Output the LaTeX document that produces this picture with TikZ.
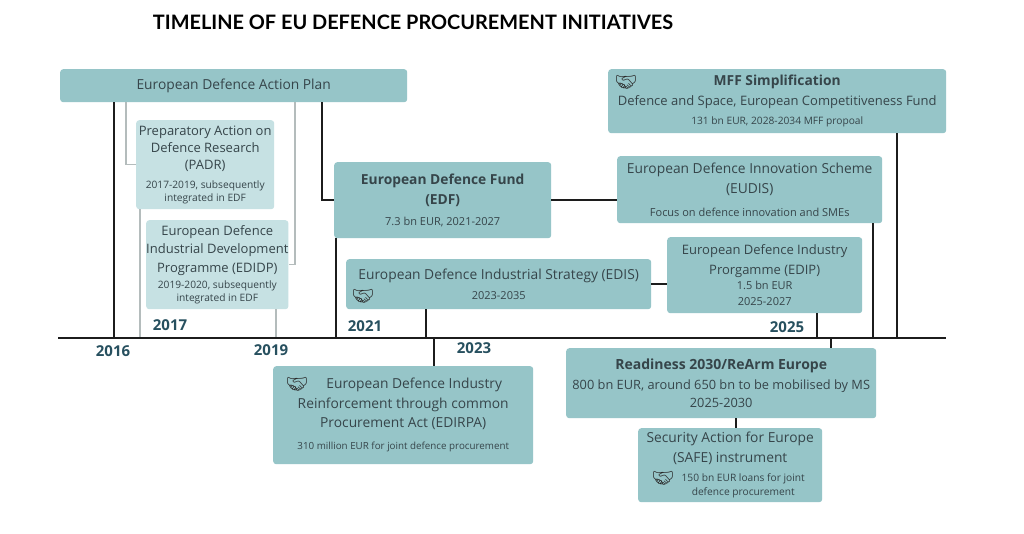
\documentclass[tikz,border=0pt]{standalone}
\usepackage{fontspec}
\setmainfont{Open Sans}
\newfontfamily\titlefont{Lato}
\newfontfamily\emofont{Noto Emoji}
\definecolor{boxc}{HTML}{96C5C8}
\definecolor{lboxc}{HTML}{C6E1E3}
\definecolor{txt}{HTML}{36454A}
\definecolor{yrc}{HTML}{27505F}
\definecolor{linec}{HTML}{1C1C1C}
\definecolor{grayc}{HTML}{B4BCBC}
\definecolor{iconc}{HTML}{2A2A2A}
\newcommand\fsM{\fontsize{13}{18.5}\selectfont}
\newcommand\fsL{\fontsize{13.8}{19.5}\selectfont}
\newcommand\fsS{\fontsize{10.2}{13.5}\selectfont}
\newcommand\fsT{\fontsize{11}{17}\selectfont}
\tikzset{
 box/.style={fill=boxc, rounded corners=3pt, inner sep=0pt, align=center, text=txt, anchor=north west, font=\fsL},
 lbox/.style={box, fill=lboxc, font=\fsM},
 blk/.style={draw=linec, line width=1.8pt},
 gry/.style={draw=grayc, line width=1.5pt},
 yr/.style={font=\fontsize{15}{15}\selectfont\bfseries, text=yrc, inner sep=0pt},
 icon/.style={font=\emofont\fontsize{18}{18}\selectfont, text=iconc, inner sep=0pt},
 ttl/.style={font=\titlefont\fontsize{19.9}{21}\selectfont\bfseries, text=black, inner sep=0pt}
}
\begin{document}
\begin{tikzpicture}[x=1pt,y=-1pt]
\useasboundingbox[fill=white] (0,0) rectangle (1024,533);
\node[ttl] (title) at (413,22) {TIMELINE OF EU DEFENCE PROCUREMENT INITIATIVES};
% timeline
\coordinate (tl0) at (58,338);
\coordinate (tl1) at (946,338);
% boxes
\node[box, minimum width=347, minimum height=33] (edap) at (60,69) {European Defence Action Plan};
\node[lbox, minimum width=138, minimum height=89, font=\fontsize{13}{17}\selectfont] (padr) at (136,120)
 {Preparatory Action on\\Defence Research\\(PADR)\\[2pt]\fsS 2017-2019, subsequently\\[-4pt]\fsS integrated in EDF};
\node[lbox, minimum width=141, minimum height=89] (edidp) at (146,220)
 {European Defence\\Industrial Development\\Programme (EDIDP)\\[-2.5pt]\fsS 2019-2020, subsequently\\[-5.5pt]\fsS integrated in EDF};
\node[box, minimum width=217, minimum height=76, font=\fsL\bfseries] (edf) at (334,162)
 {European Defence Fund\\(EDF)\\[1.5pt]\fsT\mdseries 7.3 bn EUR, 2021-2027};
\node[box, minimum width=305, minimum height=50] (edis) at (346,259)
 {European Defence Industrial Strategy (EDIS)\\\fsT 2023-2035};
\node[box, minimum width=338, minimum height=64] (mff) at (608,69)
 {\bfseries MFF Simplification\\\fsM Defence and Space, European Competitiveness Fund\\\fsS 131 bn EUR, 2028-2034 MFF propoal};
\node[box, minimum width=265, minimum height=67, font=\fontsize{13.8}{20}\selectfont] (eudis) at (617,156)
 {European Defence Innovation Scheme\\(EUDIS)\\[3pt]\fsT Focus on defence innovation and SMEs};
\node[box, minimum width=195, minimum height=76, font=\fontsize{13}{20}\selectfont] (edip) at (667,237)
 {European Defence Industry\\Prorgamme (EDIP)\\[-5pt]\fsT 1.5 bn EUR\\[-4pt]\fsT 2025-2027};
\node[box, minimum width=260, minimum height=98] (edirpa) at (273,366)
 {\hspace*{22pt}European Defence Industry\\Reinforcement through common\\Procurement Act (EDIRPA)\\[2.5pt]\fontsize{9.8}{16}\selectfont 310 million EUR for joint defence procurement};
\node[box, minimum width=310, minimum height=70, font=\fontsize{12.8}{18}\selectfont] (ready) at (566,348)
 {\fontsize{14}{20}\selectfont\bfseries Readiness 2030/ReArm Europe\\[2pt]800 bn EUR, around 650 bn to be mobilised by MS\\2025-2030};
\node[box, minimum width=184, minimum height=74] (safe) at (638,428)
 {Security Action for Europe\\(SAFE) instrument\\\fsS\hspace*{26pt}150 bn EUR loans for joint\\[-5.5pt]\fsS\hspace*{26pt}defence procurement};
% icons
\node[icon] (ic1) at (363,296) {🤝};
\node[icon] (ic2) at (626,82) {🤝};
\node[icon] (ic3) at (297,384) {🤝};
\node[icon] (ic4) at (663,478) {🤝};
% years
\node[yr] (y2016) at (113,351) {2016};
\node[yr] (y2017) at (170,325) {2017};
\node[yr] (y2019) at (271,350) {2019};
\node[yr] (y2021) at (365,326) {2021};
\node[yr] (y2023) at (474,348) {2023};
\node[yr] (y2025) at (787,327) {2025};
% connectors
\draw[gry] (126,0 |- edap.south) |- (padr.west);
\draw[gry] (140,0 |- padr.south) -- (140,0 |- tl0);
\draw[gry] (295,0 |- edap.south) |- (edidp.east);
\draw[gry] (276,0 |- edidp.south) -- (276,0 |- tl0);
\draw[blk] (114,0 |- edap.south) -- (114,0 |- tl0);
\draw[blk] (322,0 |- edap.south) |- (edf.west);
\draw[blk] (336,0 |- edf.south) -- (336,0 |- tl0);
\draw[blk] (426,0 |- edis.south) -- (426,0 |- tl0);
\draw[blk] (434,0 |- tl0) -- (434,0 |- edirpa.north);
\draw[blk] (edf.east) -- (eudis.west |- edf.east);
\draw[blk] (edis.east) -- (edip.west |- edis.east);
\draw[blk] (817,0 |- edip.south) -- (817,0 |- tl0);
\draw[blk] (831,0 |- tl0) -- (831,0 |- ready.north);
\draw[blk] (873,0 |- eudis.south) -- (873,0 |- tl0);
\draw[blk] (897,0 |- mff.south) -- (897,0 |- tl0);
\draw[blk] (736,0 |- ready.south) -- (736,0 |- safe.north);
\draw[blk] (tl0) -- (tl1);
\end{tikzpicture}
\end{document}
